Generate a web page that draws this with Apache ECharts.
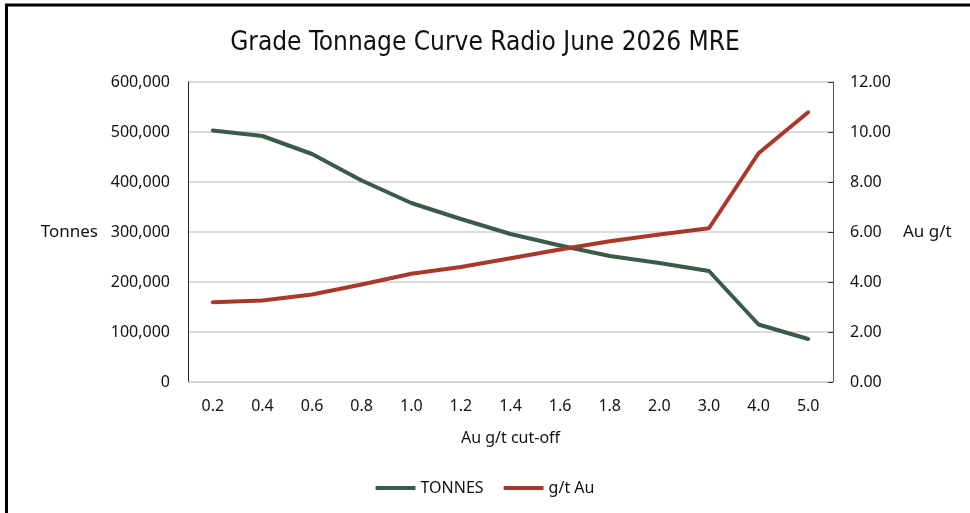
<!DOCTYPE html>
<html>
<head>
<meta charset="utf-8">
<script src="https://cdn.jsdelivr.net/npm/echarts@6/dist/echarts.min.js"></script>
<style>
  html, body { margin: 0; padding: 0; background: #fff; }
  #chart { width: 970px; height: 513px; }
</style>
</head>
<body>
<div id="chart"></div>
<script>
// cut-off grades on the x axis
const cutoffs = ["0.2", "0.4", "0.6", "0.8", "1.0", "1.2", "1.4", "1.6", "1.8", "2.0", "3.0", "4.0", "5.0"];
// tonnes above cut-off
const tonnes = [503000, 492000, 456000, 403000, 358000, 326000, 296000, 273000, 252000, 238000, 222000, 115000, 86000];
// average grade above cut-off (g/t Au)
const grade = [3.19, 3.26, 3.50, 3.90, 4.33, 4.60, 4.95, 5.30, 5.63, 5.90, 6.15, 9.15, 10.79];

const GREEN = "#3b5a48";
const RED = "#a8392a";
const labelFont = "Noto Sans";

const chart = echarts.init(document.getElementById("chart"));

chart.setOption({
    animation: false,
    backgroundColor: "#fff",
    title: {
        text: "Grade Tonnage Curve Radio June 2026 MRE",
        left: "center",
        top: 25,
        textStyle: { fontFamily: "DejaVu Sans Condensed, Liberation Sans", fontWeight: "normal", fontSize: 26, color: "#111" }
    },
    legend: {
        bottom: 12,
        left: "center",
        itemWidth: 40,
        itemHeight: 4,
        itemGap: 20,
        icon: "roundRect",
        textStyle: { fontFamily: labelFont, fontSize: 16, color: "#111" },
        data: ["TONNES", "g/t Au"]
    },
    grid: { left: 188, right: 137, top: 82, bottom: 131 },
    xAxis: {
        type: "category",
        data: cutoffs,
        boundaryGap: true,
        name: "Au g/t cut-off",
        nameLocation: "middle",
        nameGap: 48,
        nameTextStyle: { fontFamily: labelFont, fontSize: 16, color: "#111" },
        axisLine: { lineStyle: { color: "#d0d0d0", width: 1.5 } },
        axisTick: { show: false },
        axisLabel: { fontFamily: labelFont, fontSize: 16, color: "#111", margin: 16 }
    },
    yAxis: [
        {
            type: "value",
            min: 0, max: 600000, interval: 100000,
            name: "Tonnes",
            nameLocation: "middle",
            nameRotate: 0,
            nameGap: 90,
            nameTextStyle: { fontFamily: labelFont, fontSize: 17, color: "#111" },
            axisLine: { show: true, lineStyle: { color: "#222", width: 1 } },
            axisTick: { show: false },
            splitLine: { lineStyle: { color: "#cfcfcf", width: 1.5 } },
            axisLabel: {
                fontFamily: labelFont, fontSize: 16, color: "#111", margin: 18,
                formatter: v => v.toLocaleString("en-US")
            }
        },
        {
            type: "value",
            min: 0, max: 12, interval: 2,
            name: "Au g/t",
            nameLocation: "middle",
            nameRotate: 0,
            nameGap: 70,
            nameTextStyle: { fontFamily: labelFont, fontSize: 17, color: "#111" },
            position: "right",
            axisLine: { show: true, lineStyle: { color: "#555", width: 1 } },
            axisTick: { show: true, inside: true, length: 5, lineStyle: { color: "#333" } },
            splitLine: { show: false },
            axisLabel: {
                fontFamily: labelFont, fontSize: 16, color: "#111", margin: 17,
                formatter: v => v.toFixed(2)
            }
        }
    ],
    series: [
        {
            name: "TONNES",
            type: "line",
            yAxisIndex: 0,
            data: tonnes,
            symbol: "none",
            color: GREEN,
            lineStyle: { width: 4, cap: "round", join: "round" }
        },
        {
            name: "g/t Au",
            type: "line",
            yAxisIndex: 1,
            data: grade,
            symbol: "none",
            color: RED,
            lineStyle: { width: 4, cap: "round", join: "round" }
        }
    ],
    graphic: [
        {
            type: "rect",
            shape: { x: 6.5, y: 5, width: 1000, height: 600 },
            style: { fill: null, stroke: "#000", lineWidth: 3 },
            silent: true
        }
    ]
});
</script>
</body>
</html>
